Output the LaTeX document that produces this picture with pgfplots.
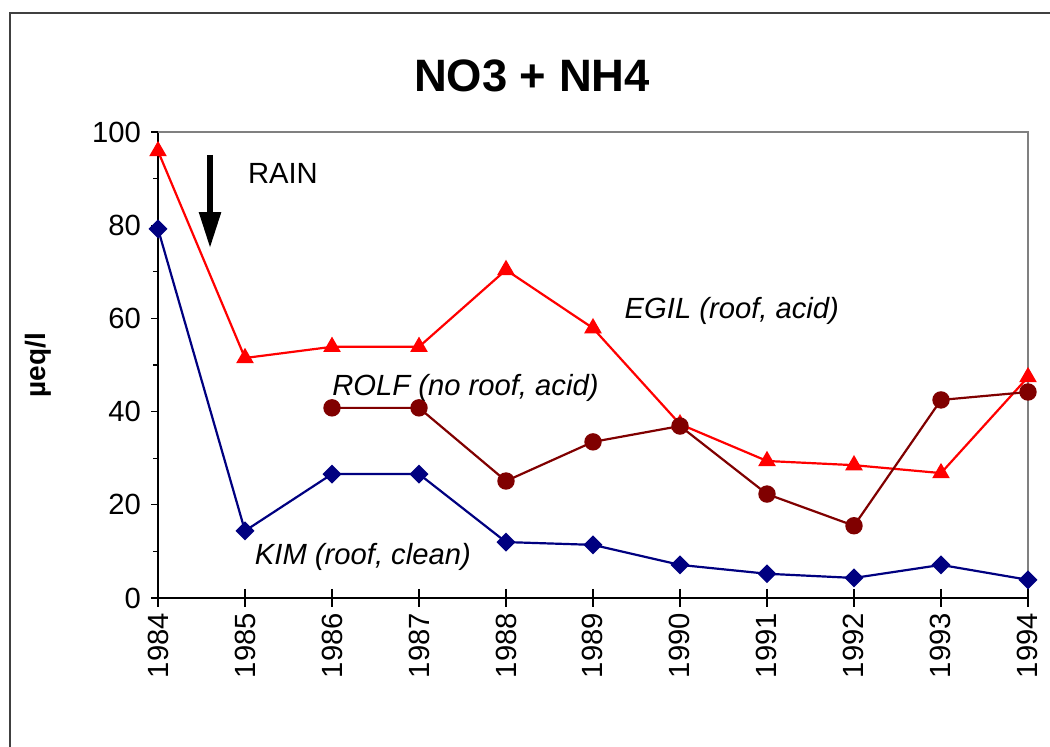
\documentclass[border=0pt]{standalone}
\usepackage{fontspec}
\setmainfont{Liberation Sans}
\usepackage{pgfplots}
\pgfplotsset{compat=1.18}
\usetikzlibrary{arrows.meta}

\definecolor{egil}{HTML}{FF0000}
\definecolor{rolf}{HTML}{800000}
\definecolor{kim}{HTML}{000080}

\begin{document}
\begin{tikzpicture}
\path[use as bounding box] (0,0) rectangle (525pt,373.5pt);
% outer frame
\draw[color=black!75, line width=0.75pt] (5pt,-5pt) -- (5pt,367pt) -- (530pt,367pt);
\node[font=\bfseries\fontsize{22.7}{24}\selectfont] at (266pt,335.5pt) {NO3 + NH4};
\node[font=\bfseries\fontsize{14}{16}\selectfont, rotate=90] at (19pt,191pt) {µeq/l};

\begin{axis}[at={(79pt,74.5pt)}, anchor=south west,
    scale only axis, width=435pt, height=233pt,
    xmin=1984, xmax=1994, ymin=0, ymax=100,
    axis x line*=bottom, axis y line*=left,
    axis line style={line width=0.75pt, -},
    xtick={1984,...,1994}, ytick={0,20,...,100},
    minor ytick={10,30,...,90},
    ytick align=outside,
    major tick length=3.5pt, minor tick length=2.5pt,
    tick style={black, line width=0.6pt},
    xtick style={draw=none},
    tick label style={font=\fontsize{14.6}{16}\selectfont},
    /pgf/number format/assume math mode=true,
    yticklabel style={xshift=-1.5pt},
    xticklabel style={yshift=-4pt, rotate=90, anchor=east, /pgf/number format/1000 sep={}},
    clip=false]
\draw[color=black!50, line width=1pt] (rel axis cs:0,1) -- (rel axis cs:1,1) -- (rel axis cs:1,0);
\pgfplotsinvokeforeach{1984,...,1994}{
  \draw[black, line width=0.6pt] (axis cs:#1,0) ++(0pt,4.5pt) -- ++(0pt,-9pt);
}

\addplot[color=egil, line width=1.1pt, mark=triangle*, mark size=4pt] coordinates {
  (1984,95.9)(1985,51.5)(1986,53.9)(1987,53.9)(1988,70.4)(1989,57.9)
  (1990,37.3)(1991,29.4)(1992,28.5)(1993,26.8)(1994,47.4)};
\addplot[color=rolf, line width=1.1pt, mark=*, mark size=3.8pt] coordinates {
  (1986,40.8)(1987,40.8)(1988,25.1)(1989,33.5)(1990,36.9)
  (1991,22.3)(1992,15.5)(1993,42.5)(1994,44.2)};
\addplot[color=kim, line width=1.1pt, mark=square*, mark size=2.8pt, mark options={rotate=45}] coordinates {
  (1984,79.2)(1985,14.4)(1986,26.6)(1987,26.6)(1988,12.0)(1989,11.4)
  (1990,7.1)(1991,5.2)(1992,4.3)(1993,7.1)(1994,3.9)};

\draw[line width=2.8pt, -{Triangle[width=10.5pt,length=18pt]}] (axis cs:1984.598,95.1) -- (axis cs:1984.598,75.1);
\node[anchor=west, inner sep=0pt, font=\fontsize{14.6}{16}\selectfont] at (axis cs:1985.03,91.2) {RAIN};
\node[anchor=west, inner sep=0pt, font=\itshape\fontsize{14.6}{16}\selectfont] at (axis cs:1989.36,61.5) {EGIL (roof, acid)};
\node[anchor=west, inner sep=0pt, font=\itshape\fontsize{14.6}{16}\selectfont] at (axis cs:1986.0,45.0) {ROLF (no roof, acid)};
\node[anchor=west, inner sep=0pt, font=\itshape\fontsize{14.6}{16}\selectfont] at (axis cs:1985.11,8.8) {KIM (roof, clean)};
\end{axis}
\end{tikzpicture}
\end{document}
